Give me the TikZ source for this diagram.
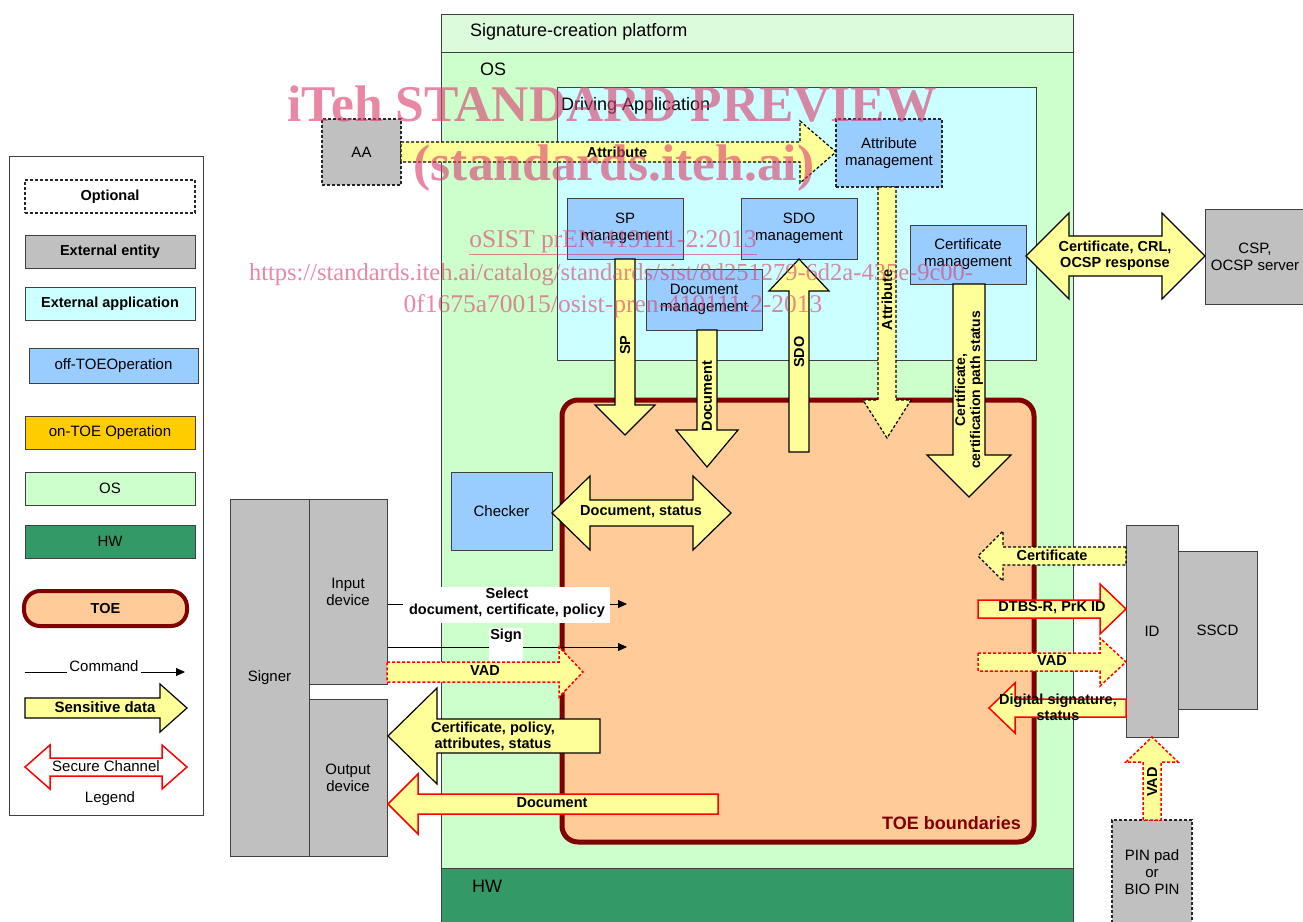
\documentclass[tikz,border=0pt]{standalone}
\usepackage{fontspec}
\setmainfont{Liberation Sans}
\newfontfamily\wmfont{Liberation Serif}
\usetikzlibrary{arrows.meta}
\definecolor{hdrgreen}{HTML}{DCFADC}
\definecolor{osgreen}{HTML}{CCFFCC}
\definecolor{hwgreen}{HTML}{339966}
\definecolor{appcyan}{HTML}{CCFFFF}
\definecolor{opblue}{HTML}{99CCFF}
\definecolor{entgray}{HTML}{C0C0C0}
\definecolor{toefill}{HTML}{FFCC99}
\definecolor{toered}{HTML}{800000}
\definecolor{yfill}{HTML}{FFFF99}
\definecolor{gold}{HTML}{FFCC00}
\definecolor{wm}{HTML}{DA3F6E}
\newcommand\fsz[2]{\fontsize{#1}{#2}\selectfont}
% block arrows
\newcommand\RArr[7][]{\draw[#1] (#2,#4-#5) -- (#3-#7,#4-#5) -- (#3-#7,#4-#6) -- (#3,#4) -- (#3-#7,#4+#6) -- (#3-#7,#4+#5) -- (#2,#4+#5) -- cycle;}
\newcommand\LArr[7][]{\draw[#1] (#3,#4-#5) -- (#2+#7,#4-#5) -- (#2+#7,#4-#6) -- (#2,#4) -- (#2+#7,#4+#6) -- (#2+#7,#4+#5) -- (#3,#4+#5) -- cycle;}
\newcommand\DArr[7][]{\draw[#1] (#2-#5,#3) -- (#2-#5,#4-#7) -- (#2-#6,#4-#7) -- (#2,#4) -- (#2+#6,#4-#7) -- (#2+#5,#4-#7) -- (#2+#5,#3) -- cycle;}
\newcommand\UArr[7][]{\draw[#1] (#2-#5,#4) -- (#2-#5,#3+#7) -- (#2-#6,#3+#7) -- (#2,#3) -- (#2+#6,#3+#7) -- (#2+#5,#3+#7) -- (#2+#5,#4) -- cycle;}
\newcommand\HDArr[7][]{\draw[#1] (#2,#4) -- (#2+#7,#4-#6) -- (#2+#7,#4-#5) -- (#3-#7,#4-#5) -- (#3-#7,#4-#6) -- (#3,#4) -- (#3-#7,#4+#6) -- (#3-#7,#4+#5) -- (#2+#7,#4+#5) -- (#2+#7,#4+#6) -- cycle;}
\begin{document}
\begin{tikzpicture}[x=1pt,y=-1pt,
  box/.style={draw=black!75, line width=1pt, inner sep=0pt, align=center, font=\fsz{15}{17}},
  gbox/.style={box, fill=entgray},
  bbox/.style={box, fill=opblue},
  optbox/.style={dash pattern=on 3pt off 2pt, line width=1.3pt, draw=black!85},
  arrowY/.style={fill=yfill, draw=black, line width=1.2pt, line join=miter},
  optY/.style={arrowY, dash pattern=on 3pt off 2pt},
  secY/.style={fill=yfill, draw=red, line width=1.5pt, line join=miter},
  secYd/.style={secY, dash pattern=on 3pt off 2pt},
  lbl/.style={font=\bfseries\fsz{14.5}{16}, inner sep=0pt, align=center},
  hdr/.style={anchor=west, font=\fsz{18}{20}, inner sep=0pt},
  cmd/.style={draw=black, line width=0.8pt, -{Triangle[length=9pt,width=8pt]}},
  leg/.style={box, minimum width=170, minimum height=33},
  wmtxt/.style={text=wm, text opacity=0.62, inner sep=0pt}]
\useasboundingbox (0,0) rectangle (1303,921);
% platform
\fill[white] (0,0) rectangle (1303,921);
\draw[fill=hdrgreen, draw=black!75, line width=1pt] (441,14) rectangle (1073,52);
\draw[fill=osgreen, draw=black!75, line width=1pt] (441,52) rectangle (1073,868);
\draw[fill=hwgreen, draw=black!75, line width=1pt] (441,868) rectangle (1073,925);
\node[hdr] (tplat) at (470,32) {Signature-creation platform};
\node[hdr] (tos) at (480,69) {OS};
\node[hdr] (thw) at (472,886) {HW};
% driving application
\draw[fill=appcyan, draw=black!75, line width=1pt] (557,87) rectangle (1036,360);
\node[hdr] (tda) at (561,106) {Driving Application};
% TOE
\draw[fill=toefill, draw=toered, line width=5pt, rounded corners=16pt] (562,400) rectangle (1034,842);
\node[anchor=east, font=\bfseries\fsz{18}{20}, text=toered, inner sep=0pt] (ttoe) at (1021,823) {TOE boundaries};
% boxes
\node[gbox, optbox, minimum width=79, minimum height=66] (aa) at (361.5,152) {AA};
\node[bbox, optbox, minimum width=106, minimum height=68] (attr) at (889,153) {Attribute\\management};
\node[bbox, minimum width=116, minimum height=61] (sp) at (625,228.5) {SP\\management};
\node[bbox, minimum width=116, minimum height=61] (sdo) at (799,228.5) {SDO\\management};
\node[bbox, minimum width=116, minimum height=59] (cert) at (968,254.5) {Certificate\\management};
\node[bbox, minimum width=116, minimum height=61] (docm) at (704,299.5) {Document\\management};
\node[gbox, minimum width=100, minimum height=95] (csp) at (1255,256.5) {};
\node[font=\fsz{15}{17}, align=center] (csptxt) at (1255,256.5) {CSP,\\OCSP server};
\node[bbox, minimum width=101, minimum height=78] (checker) at (501.5,511) {Checker};
\node[gbox, minimum width=79, minimum height=357] (signer) at (269.5,677.5) {Signer};
\node[gbox, minimum width=78, minimum height=185] (input) at (348,591.5) {Input\\device};
\node[gbox, minimum width=78, minimum height=157] (output) at (348,777.5) {Output\\device};
\node[gbox, minimum width=52, minimum height=212] (id) at (1152,631) {ID};
\node[gbox, minimum width=79, minimum height=158] (sscd) at (1217.5,630) {SSCD};
\node[gbox, optbox, minimum width=80, minimum height=105] (pin) at (1152,872.5) {PIN pad\\or\\BIO PIN};
% arrows top
\RArr[optY]{401}{836}{152}{10}{31}{36}
\node[lbl] (lattr) at (617,152) {Attribute};
\HDArr[arrowY]{1026}{1205}{256}{20}{43}{43}
\node[lbl] (lcrl) at (1115,256) {Certificate, CRL,\\OCSP response};
\DArr[arrowY]{625}{259}{435}{10}{30}{30}
\node[lbl, rotate=90] (lsp) at (625,345) {SP};
\DArr[arrowY]{707}{330}{467}{10}{31}{37}
\node[lbl, rotate=90] (ldoc) at (707,396) {Document};
\UArr[arrowY]{799}{259}{452}{10}{30}{32}
\node[lbl, rotate=90] (lsdo) at (799,352) {SDO};
\DArr[optY]{887}{187}{438}{9}{24}{38}
\node[lbl, rotate=90] (lattr2) at (887,300) {Attribute};
\DArr[arrowY]{969}{284}{497}{16}{42}{42}
\node[lbl, rotate=90, font=\bfseries\fsz{14}{15}] (lcp) at (969,390) {Certificate,\\certification path status};
\HDArr[arrowY]{552}{731}{513}{13}{37}{38}
\node[lbl] (lds) at (641,512) {Document, status};
% left side
\coordinate (selA) at (input.east |- 0,604);
\coordinate (selB) at (627,604);
\draw[cmd] (selA) -- (selB);
\node[fill=white, minimum width=207, minimum height=36, inner sep=0pt] (selbg) at (506.5,604.5) {};
\node[lbl] (lsel) at (507,603) {Select\\document, certificate, policy};
\coordinate (sigA) at (input.east |- 0,647);
\coordinate (sigB) at (627,647);
\draw[cmd] (sigA) -- (sigB);
\node[fill=white, minimum width=34, minimum height=34, inner sep=0pt] (signbg) at (506,645) {};
\node[lbl] (lsign) at (506,636) {Sign};
\RArr[secYd]{387}{583}{672}{10}{25}{24}
\node[lbl] (lvad1) at (485,671) {VAD};
\LArr[arrowY]{388}{600}{736}{17}{48}{49}
\node[lbl] (lcpa) at (493,736) {Certificate, policy,\\attributes, status};
\LArr[secY]{388}{718}{804}{10}{30}{30}
\node[lbl] (ldoc2) at (552,803) {Document};
% right side
\LArr[optY]{978}{1126}{556}{9}{25}{25}
\node[lbl] (lcert) at (1052,555) {Certificate};
\RArr[secY]{978}{1126}{609}{9}{25}{26}
\node[lbl] (ldtbs) at (1052,608) {DTBS-R, PrK ID};
\RArr[secYd]{978}{1126}{662}{9}{24}{26}
\node[lbl] (lvad2) at (1052,661) {VAD};
\LArr[secY]{989}{1126}{708}{9}{25}{26}
\node[lbl] (ldig) at (1058,707) {Digital signature,\\status};
\UArr[secYd]{1152}{737}{820}{9}{26}{25}
\node[lbl, rotate=90] (lvad3) at (1152,782) {VAD};
% legend
\draw[draw=black!75, line width=1pt] (9,156) rectangle (203,815);
\node[leg, fill=white, optbox, font=\bfseries\fsz{14.5}{16}] (lgopt) at (110,196.5) {Optional};
\node[leg, fill=entgray, font=\bfseries\fsz{14.5}{16}] (lgext) at (110,251.5) {External entity};
\node[leg, fill=appcyan, font=\bfseries\fsz{14.5}{16}] (lgapp) at (110,303.5) {External application};
\node[leg, fill=opblue, minimum width=169, minimum height=35] (lgoff) at (113.5,365.5) {off-TOEOperation};
\node[leg, fill=gold] (lgon) at (110,432.5) {on-TOE Operation};
\node[leg, fill=osgreen] (lgos) at (110,488.5) {OS};
\node[leg, fill=hwgreen] (lghw) at (110,541.5) {HW};
\node[leg, draw=toered, line width=4pt, fill=toefill, rounded corners=16pt, minimum width=163, minimum height=35, font=\bfseries\fsz{14.5}{16}] (lgtoe) at (105.5,608.5) {TOE};
\coordinate (cmdA) at (25,672);
\coordinate (cmdB) at (185,672);
\draw[cmd] (cmdA) -- (cmdB);
\node[fill=white, inner sep=2pt, font=\fsz{15}{17}] (lgcmd) at (104,666) {Command};
\RArr[arrowY]{25}{187}{708}{10}{24}{27}
\node[lbl, font=\bfseries\fsz{15}{17}] (lgsens) at (105,707) {Sensitive data};
\HDArr[fill=white, draw=red, line width=1.5pt]{25}{187}{767}{9}{22}{25}
\node[font=\fsz{15}{17}, inner sep=0pt] (lgsec) at (106,766) {Secure Channel};
\node[font=\fsz{15}{17}] (lglegend) at (110,799) {Legend};
% watermark
\node[wmtxt, font=\wmfont\bfseries\fsz{51.5}{56}] (wm1) at (612,104) {iTeh STANDARD PREVIEW};
\node[wmtxt, font=\wmfont\bfseries\fsz{51.5}{56}] (wm2) at (614,168) {(standards.iteh.ai)};
\node[wmtxt, font=\wmfont\fsz{25.5}{28}] (wm3) at (613,243) {\underline{oSIST prEN 419111-2:2013}};
\node[wmtxt, font=\wmfont\fsz{24.5}{28}] (wm4) at (611,275) {https://standards.iteh.ai/catalog/standards/sist/8d251279-6d2a-435e-9c00-};
\node[wmtxt, font=\wmfont\fsz{25.5}{28}] (wm5) at (613,306) {0f1675a70015/osist-pren-419111-2-2013};
\end{tikzpicture}
\end{document}
